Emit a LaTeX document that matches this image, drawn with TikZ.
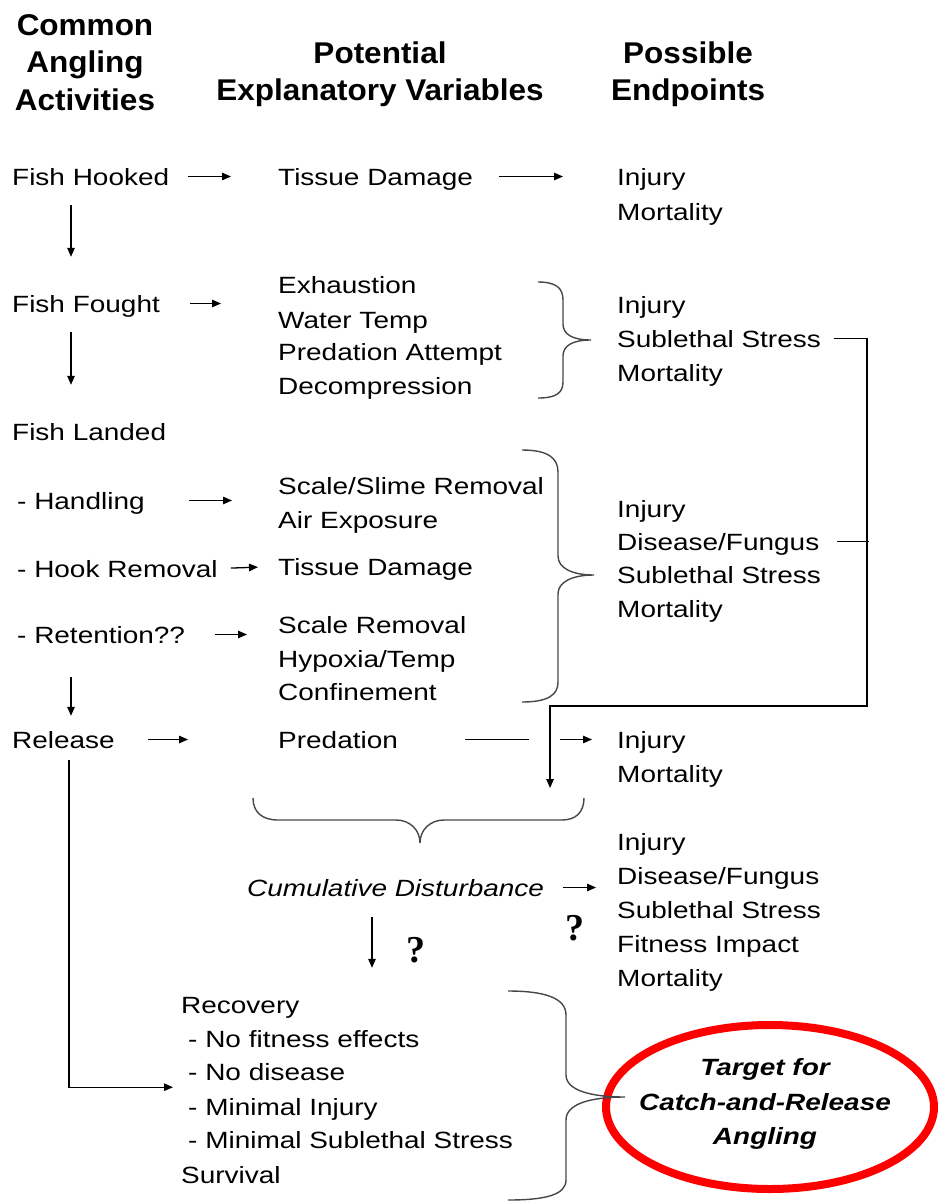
\documentclass[tikz,border=0pt]{standalone}
\usepackage{fontspec}
\setmainfont{Liberation Sans}[FakeStretch=1.19]
\newfontfamily\hdrfont{Liberation Sans}[FakeStretch=1.05]
\newfontfamily\qfont{Liberation Serif}
\usetikzlibrary{arrows.meta,shapes.geometric}
\tikzset{
  txt/.style={anchor=base west, inner sep=0pt, text height=17pt, text depth=0pt,
              font=\fontsize{23.5}{28}\selectfont},
  hdr/.style={anchor=base, inner sep=0pt, font=\hdrfont\bfseries\fontsize{30}{36}\selectfont},
  arr/.style={line width=1.3pt, -{Triangle[length=9pt,width=7.5pt]}},
  ln/.style={line width=1.3pt},
  brace/.style={line width=1.4pt, draw=black!72},
  qm/.style={anchor=base, inner sep=0pt, font=\qfont\bfseries\fontsize{38}{40}\selectfont}
}
\begin{document}
\begin{tikzpicture}[x=1pt,y=-1pt]
\useasboundingbox (0,0) rectangle (940,1202);

% headers
\node[hdr] (h1a) at (85,35) {Common};
\node[hdr] (h1b) at (85,72) {Angling};
\node[hdr] (h1c) at (85,110) {Activities};
\node[hdr] (h2a) at (380,63) {Potential};
\node[hdr] (h2b) at (380,100) {Explanatory Variables};
\node[hdr] (h3a) at (688,63) {Possible};
\node[hdr] (h3b) at (688,100) {Endpoints};

% column 1
\node[txt] (fh) at (12,185) {Fish Hooked};
\node[txt] (ff) at (12,312) {Fish Fought};
\node[txt] (fl) at (12,440) {Fish Landed};
\node[txt] (hd) at (17,509) {- Handling};
\node[txt] (hr) at (17,577) {- Hook Removal};
\node[txt] (rt) at (17,643) {- Retention??};
\node[txt] (rl) at (12,748) {Release};

% column 2
\node[txt] (td1) at (278,185) {Tissue Damage};
\node[txt] (ex) at (278,293) {Exhaustion};
\node[txt] (wt) at (278,328) {Water Temp};
\node[txt] (pa) at (278,360) {Predation Attempt};
\node[txt] (dc) at (278,394) {Decompression};
\node[txt] (ssr) at (278,494) {Scale/Slime Removal};
\node[txt] (ae) at (278,528) {Air Exposure};
\node[txt] (td2) at (278,575) {Tissue Damage};
\node[txt] (sr) at (278,633) {Scale Removal};
\node[txt] (ht) at (278,667) {Hypoxia/Temp};
\node[txt] (cf) at (278,700) {Confinement};
\node[txt] (pr) at (278,748) {Predation};
\node[txt, font=\fontsize{23.5}{28}\selectfont\itshape] (cd) at (247,896) {Cumulative Disturbance};

% column 3
\node[txt] (ij1) at (617,185) {Injury};
\node[txt] (mo1) at (617,220) {Mortality};
\node[txt] (ij2) at (617,313) {Injury};
\node[txt] (ss1) at (617,347) {Sublethal Stress};
\node[txt] (mo2) at (617,381) {Mortality};
\node[txt] (ij3) at (617,517) {Injury};
\node[txt] (df1) at (617,550) {Disease/Fungus};
\node[txt] (ss2) at (617,583) {Sublethal Stress};
\node[txt] (mo3) at (617,617) {Mortality};
\node[txt] (ij4) at (617,748) {Injury};
\node[txt] (mo4) at (617,782) {Mortality};
\node[txt] (ij5) at (617,850) {Injury};
\node[txt] (df2) at (617,884) {Disease/Fungus};
\node[txt] (ss3) at (617,918) {Sublethal Stress};
\node[txt] (fi) at (617,952) {Fitness Impact};
\node[txt] (mo5) at (617,986) {Mortality};

% recovery block
\node[txt] (rc) at (181,1013) {Recovery};
\node[txt] (nf) at (188,1047) {- No fitness effects};
\node[txt] (nd) at (188,1080) {- No disease};
\node[txt] (mi) at (188,1115) {- Minimal Injury};
\node[txt] (ms) at (188,1148) {- Minimal Sublethal Stress};
\node[txt] (sv) at (181,1183) {Survival};

% question marks
\node[qm] (q1) at (416,962) {?};
\node[qm] (q2) at (575,940) {?};

% target ellipse
\node[ellipse, draw=red, line width=8pt, minimum width=328pt, minimum height=164pt, inner sep=0pt] (tgt) at (770,1107) {};
\node[align=center, inner sep=0pt, font=\fontsize{23.5}{34.5}\selectfont\bfseries\itshape] (tgtxt) at (765,1104) {Target for\\Catch-and-Release\\Angling};

% horizontal arrows
\draw[arr, shorten <=19pt, shorten >=47pt] (fh.east) -- (td1.west);
\draw[arr, shorten <=26pt, shorten >=54pt] (td1.east) -- (ij1.west);
\draw[arr, shorten <=30pt, shorten >=57pt] (ff.east) -- (ff.east -| ex.west);
\draw[arr, shorten <=44pt, shorten >=46pt] (hd.east) -- (hd.east -| ssr.west);
\draw[arr, shorten <=13pt, shorten >=20pt] (hr.east) -- (td2.west);
\draw[arr, shorten <=30pt, shorten >=31pt] (rt.east) -- (rt.east -| sr.west);
\draw[arr, shorten <=33pt, shorten >=90pt] (rl.east) -- (pr.west);
\draw[ln, shorten <=67pt, shorten >=88pt] (pr.east) -- (ij4.west);
\draw[arr, shorten <=162pt, shorten >=25pt] (pr.east) -- (ij4.west);
\draw[arr, shorten <=19pt, shorten >=21pt] (cd.east) -- (cd.east -| df2.west);

% vertical arrows in column 1
\draw[arr] ([xshift=59pt,yshift=-20pt]fh.south west) -- ([xshift=59pt,yshift=38pt]ff.north west);
\draw[arr] ([xshift=59pt,yshift=-20pt]ff.south west) -- ([xshift=59pt,yshift=38pt]fl.north west);
\draw[arr] ([xshift=54pt,yshift=-34pt]rt.south west) -- ([xshift=59pt,yshift=15pt]rl.north west);
\draw[arr] ([xshift=57pt,yshift=-12pt]rl.south west) |- ([xshift=-15pt,yshift=-7pt]nd.south west);

% cumulative -> recovery
\draw[arr] ([xshift=125pt,yshift=-21pt]cd.south west) -- ([xshift=191pt,yshift=28pt]rc.north west);

% feedback connectors
\draw[arr] ([xshift=13pt]ss1.east) -- ++(33,0) -- ++(0,367.5) -- ++(-317,0) -- ++(0,82);
\draw[ln] ([xshift=18pt]df1.east) -- ++(32,0);

% braces
\draw[brace] (538,282) .. controls (556,282) and (563,288) .. (563,300) -- (563,324)
  .. controls (563,334) and (572,340) .. (591,340)
  .. controls (572,340) and (563,346) .. (563,356) -- (563,382)
  .. controls (563,393) and (556,398) .. (538,398);
\draw[brace] (522,450) .. controls (548,450) and (558,458) .. (558,472) -- (558,556)
  .. controls (558,568) and (572,575) .. (594,575)
  .. controls (572,575) and (558,582) .. (558,594) -- (558,682)
  .. controls (558,695) and (548,702) .. (522,702);
\draw[brace] (253,798) .. controls (253,812) and (262,820) .. (278,820) -- (396,820)
  .. controls (410,820) and (420,830) .. (420,843)
  .. controls (420,830) and (430,820) .. (444,820) -- (562,820)
  .. controls (576,820) and (584,812) .. (584,798);
\draw[brace] (508,991) .. controls (545,991) and (566,998) .. (566,1015) -- (566,1075)
  .. controls (566,1090) and (590,1097) .. (625,1097)
  .. controls (590,1097) and (566,1104) .. (566,1120) -- (566,1180)
  .. controls (566,1195) and (545,1200) .. (508,1200);
\end{tikzpicture}
\end{document}
